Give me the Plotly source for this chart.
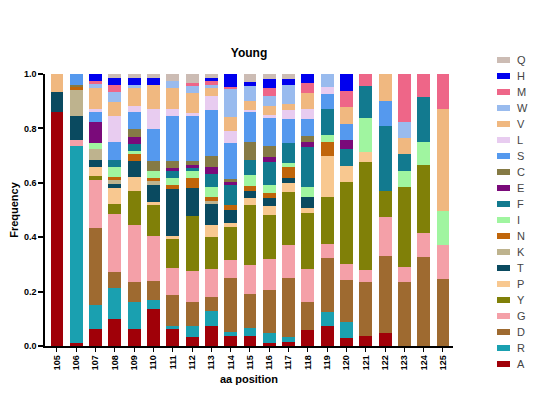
import plotly.graph_objects as go

positions = [str(p) for p in range(105, 126)]

# stacking order bottom -> top
A = [.860, .012, .061, .098, .061, .137, .061, .034, .074, .037, .037, .012, .016, .059, .074, .031, .038, .047, 0, 0, 0]
R = [0, .722, .089, .114, .099, .032, .012, .039, .056, .016, .031, .034, .018, 0, .050, .059, 0, 0, 0, 0, 0]
D = [0, 0, .284, .060, .075, .070, .114, .090, .049, .196, .124, .160, .215, .101, .199, .151, .199, .285, .234, .329, .247]
G = [0, .024, .175, .214, .210, .166, .101, .113, .103, .067, .107, .113, .123, .123, .052, .060, .043, .142, .058, .086, .125]
Y = [0, 0, .015, .036, .126, .112, .104, .202, .117, .123, .221, .161, .196, .206, .172, .301, .395, .097, .294, .249, 0]
P = [0, 0, .035, .059, .051, .011, .012, 0, .047, .012, .025, .033, .033, .018, .151, .059, .040, 0, 0, 0, 0]
T = [.073, .089, .025, .016, .059, .065, .173, .102, .076, .049, .025, .031, .016, .040, 0, 0, 0, 0, 0, 0, 0]
K = [0, .095, .042, .012, 0, .012, 0, 0, .012, 0, 0, 0, 0, 0, 0, 0, 0, 0, 0, 0, 0]
N = [0, .010, 0, .012, .025, .012, .015, .037, .012, .020, .018, .018, .040, 0, .052, 0, 0, 0, 0, 0, 0]
I = [0, 0, .022, .036, .012, .025, .025, .025, .038, 0, .039, .031, .017, .039, .025, 0, .123, 0, .059, .085, .126]
F = [0, 0, 0, .026, .025, 0, .028, .012, .049, .071, .056, .082, .074, .147, .098, .064, .119, .237, .060, .166, 0]
E = [0, 0, .076, 0, .025, 0, .009, .012, .025, .012, 0, .020, 0, .018, 0, .031, 0, 0, 0, 0, 0]
C = [0, .009, 0, 0, .030, .037, .025, .016, .039, .012, .066, .042, 0, .021, 0, 0, 0, 0, 0, 0, 0]
S = [0, .039, .037, .066, .061, .117, .166, .164, .169, .133, .110, .102, .086, .061, .053, .059, 0, .094, 0, 0, 0]
L = [0, 0, .012, .098, .022, .076, .027, .012, .052, .042, .010, .012, .034, .040, .025, 0, 0, 0, 0, 0, 0]
V = [.067, 0, .077, .049, .069, .086, .077, .071, .031, .053, .031, .033, .021, .058, 0, .064, 0, .098, .059, 0, .373]
W = [0, 0, .012, .037, .010, 0, .025, .027, .012, .104, .055, .034, .071, 0, .052, 0, 0, 0, .058, 0, 0]
M = [0, 0, .012, .025, 0, 0, 0, .012, .012, .006, 0, .031, 0, .037, 0, .059, .043, 0, .178, .086, .129]
H = [0, 0, .027, .028, .025, .028, 0, 0, .012, .047, .015, .033, .021, .031, 0, .064, 0, 0, 0, 0, 0]
Q = [0, 0, 0, .015, .015, .015, .027, .031, .015, 0, .031, .018, .018, 0, 0, 0, 0, 0, 0, 0, 0]

series_names = ["A", "R", "D", "G", "Y", "P", "T", "K", "N", "I", "F", "E", "C", "S", "L", "V", "W", "M", "H", "Q"]
series_values = [A, R, D, G, Y, P, T, K, N, I, F, E, C, S, L, V, W, M, H, Q]
series_colors = ["#A00008", "#1AA0B0", "#9E6A30", "#F4A0A8", "#808008", "#F8C890", "#0A4A60",
                 "#BEB38E", "#C0650A", "#A0F5A0", "#127A8F", "#7A0A7A", "#857A45", "#5599EE",
                 "#E8CCF0", "#F0B880", "#99BBEE", "#EE6688", "#0000EE", "#CCBCB4"]

FONT = "Arial, Liberation Sans, sans-serif"

fig = go.Figure()
for name, vals, col in zip(series_names, series_values, series_colors):
    fig.add_trace(go.Bar(x=positions, y=vals, name=name, marker=dict(color=col, line=dict(width=0)),
                         showlegend=False))

# page body has an 8px margin; figure is sized to fit the window
OFF = 8
W_PX, H_PX = 524, 380
ML, MR, MT, MB = 45 - OFF, 79, 74 - OFF, 42
pw, ph = W_PX - ML - MR, H_PX - MT - MB
def px2x(px):
    return (px - OFF - ML) / pw
def py2y(py):
    return (H_PX - MB - (py - OFF)) / ph

# manual legend (top: Q ... bottom: A)
shapes = []
annotations = []
for k, (name, col) in enumerate(zip(series_names[::-1], series_colors[::-1])):
    cy = 60 + 16 * k
    shapes.append(dict(type="rect", xref="paper", yref="paper",
                       x0=px2x(497), x1=px2x(510), y0=py2y(cy + 3), y1=py2y(cy - 3),
                       fillcolor=col, line=dict(width=0)))
    annotations.append(dict(xref="paper", yref="paper", x=px2x(515), y=py2y(cy),
                            text=name, showarrow=False, xanchor="left", yanchor="middle",
                            font=dict(family=FONT, size=11, color="#444")))

fig.update_layout(
    template="none",
    width=W_PX, height=H_PX,
    margin=dict(l=ML, r=MR, t=MT, b=MB, autoexpand=False),
    barmode="stack", bargap=0.33,
    plot_bgcolor="white", paper_bgcolor="white",
    font=dict(family=FONT, color="black"),
    title=dict(text="<b>Young</b>", x=0.5, xref="paper", y=1 - (53 - OFF) / H_PX, yanchor="middle",
               xanchor="center", font=dict(size=12, family=FONT, color="black")),
    shapes=shapes, annotations=annotations,
)
fig.update_xaxes(type="category", range=[-0.62, 20.52], automargin=False, showline=True, linecolor="black",
                 linewidth=1.5, ticks="outside", ticklen=4, tickwidth=1, tickcolor="black",
                 tickangle=-90, tickfont=dict(size=9, family=FONT, weight="bold"),
                 title=dict(text="<b>aa position</b>", font=dict(size=11, family=FONT), standoff=6),
                 showgrid=False, zeroline=False)
fig.update_yaxes(range=[0, 1], automargin=False, tickvals=[0, 0.2, 0.4, 0.6, 0.8, 1.0], tickformat=".1f",
                 showline=True, linecolor="black", linewidth=1.5, ticks="outside", ticklen=5,
                 tickwidth=1.5, tickcolor="black", tickfont=dict(size=9, family=FONT, weight="bold"),
                 title=dict(text="<b>Frequency</b>", font=dict(size=11, family=FONT), standoff=4),
                 showgrid=False, zeroline=False)

fig.write_html("out.html")
